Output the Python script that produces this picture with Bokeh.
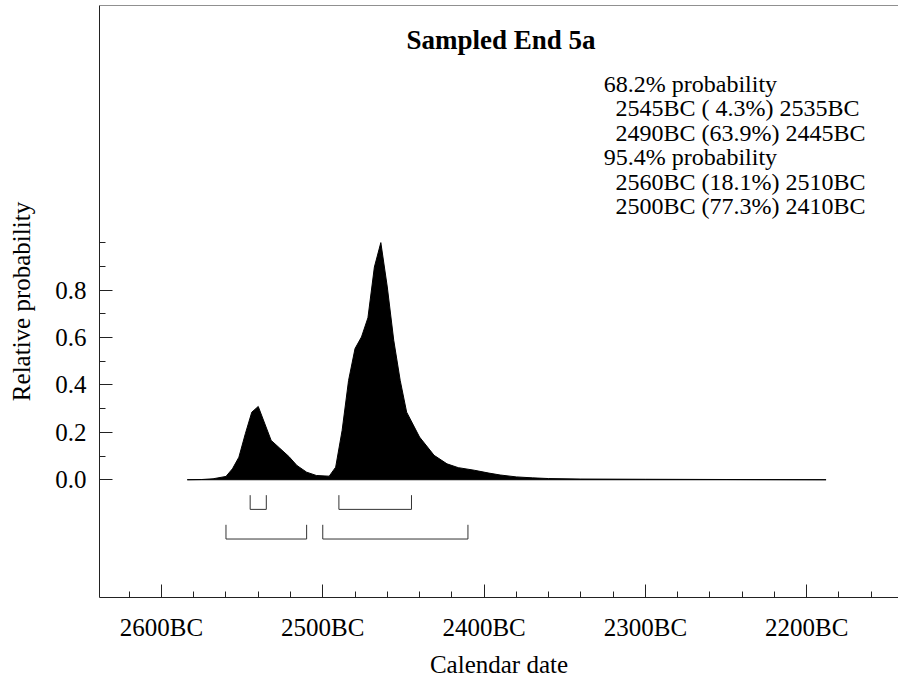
from bokeh.plotting import figure
from bokeh.models import Range1d, FixedTicker, Label, PrintfTickFormatter, Span
from bokeh.embed import file_html
from bokeh.resources import INLINE

# ---- data (years BC, relative probability) ----
years_bc = [2584, 2575, 2568, 2560, 2556, 2552, 2548, 2544, 2540, 2532, 2527, 2521,
            2516, 2510, 2504, 2496, 2492, 2488, 2484, 2480, 2476, 2472, 2468, 2464,
            2460, 2456, 2452, 2448, 2440, 2431, 2423, 2416, 2406, 2397, 2390, 2380,
            2370, 2360, 2340, 2300, 2250, 2188]
prob = [0.0, 0.001, 0.004, 0.014, 0.046, 0.095, 0.194, 0.285, 0.309, 0.166, 0.135, 0.098,
        0.060, 0.032, 0.018, 0.015, 0.053, 0.208, 0.419, 0.553, 0.602, 0.683, 0.897, 1.0,
        0.813, 0.588, 0.419, 0.285, 0.180, 0.103, 0.067, 0.051, 0.040, 0.028, 0.020, 0.012,
        0.008, 0.005, 0.003, 0.002, 0.001, 0.0]

ranges_68_start = [2545, 2490]
ranges_68_end = [2535, 2445]
ranges_95_start = [2560, 2500]
ranges_95_end = [2510, 2410]

x_major_bc = [2600, 2500, 2400, 2300, 2200]
y_major = [0.0, 0.2, 0.4, 0.6, 0.8]
y_minor = [0.1, 0.3, 0.5, 0.7, 0.9, 1.0]

title_text = "Sampled End 5a"
stats_lines = ["68.2% probability",
               "2545BC ( 4.3%) 2535BC",
               "2490BC (63.9%) 2445BC",
               "95.4% probability",
               "2560BC (18.1%) 2510BC",
               "2500BC (77.3%) 2410BC"]
stats_indent = [False, True, True, False, True, True]

FONT = "Liberation Serif"
AX = "#222222"
Y_TOP = 2.0

p = figure(width=898, height=686, output_backend="svg", toolbar_location=None,
           x_range=Range1d(-2638.4, -2143.1), y_range=Range1d(-0.4966, Y_TOP),
           min_border_left=99, min_border_right=0, min_border_top=5, min_border_bottom=89)
p.grid.visible = False
p.outline_line_color = None
p.background_fill_color = "white"
p.border_fill_color = "white"

# density
xs = [-y for y in years_bc]
p.patch(xs, prob, fill_color="black", line_color="black", line_width=1)

# range brackets
def brackets(starts, ends, level, h):
    mx, my = [], []
    for s, e in zip(starts, ends):
        mx.append([-s, -s, -e, -e])
        my.append([level + h, level, level, level + h])
    return mx, my

bx1, by1 = brackets(ranges_68_start, ranges_68_end, -0.125, 0.06)
bx2, by2 = brackets(ranges_95_start, ranges_95_end, -0.25, 0.06)
p.multi_line(bx1 + bx2, by1 + by2, line_color="#333333", line_width=1)

# x axis
xa = p.xaxis[0]
xa.ticker = FixedTicker(ticks=[-v for v in x_major_bc],
                        minor_ticks=list(range(-2620, -2140, 20)))
xa.major_label_overrides = {-v: f"{v}BC" for v in x_major_bc}
xa.major_tick_in = 13
xa.major_tick_out = 0
xa.minor_tick_in = 6
xa.minor_tick_out = 0
xa.major_label_standoff = 16
xa.axis_label = "Calendar date"
xa.axis_label_standoff = 7
xa.axis_label_text_font = FONT
xa.axis_label_text_font_style = "normal"
xa.axis_label_text_font_size = "25px"
xa.axis_label_text_color = "black"
xa.major_label_text_font = FONT
xa.major_label_text_font_size = "25px"
xa.major_label_text_color = "black"
xa.axis_line_color = AX
xa.major_tick_line_color = AX
xa.minor_tick_line_color = AX

# y axis
ya = p.yaxis[0]
ya.ticker = FixedTicker(ticks=y_major, minor_ticks=y_minor)
ya.formatter = PrintfTickFormatter(format="%.1f")
ya.major_tick_in = 13
ya.major_tick_out = 0
ya.minor_tick_in = 6
ya.minor_tick_out = 0
ya.major_label_standoff = 13
ya.axis_label = "Relative probability"
ya.axis_label_standoff = 17
ya.axis_label_text_font = FONT
ya.axis_label_text_font_style = "normal"
ya.axis_label_text_font_size = "25px"
ya.axis_label_text_color = "black"
ya.major_label_text_font = FONT
ya.major_label_text_font_size = "25px"
ya.major_label_text_color = "black"
ya.axis_line_color = AX
ya.major_tick_line_color = AX
ya.minor_tick_line_color = AX

# top frame line
p.add_layout(Span(location=Y_TOP, dimension="width", line_color=AX, line_width=1))

# title
p.add_layout(Label(x=-2389.5, y=1.854, text=title_text, text_font=FONT,
                   text_font_style="bold", text_font_size="27px", text_color="black",
                   text_align="center", text_baseline="alphabetic"))

# stats text
for k, (line, ind) in enumerate(zip(stats_lines, stats_indent)):
    p.add_layout(Label(x=-2318.5 if ind else -2325.8, y=1.670 - k * 0.1034, text=line,
                       text_font=FONT, text_font_size="24px", text_color="black",
                       text_align="left", text_baseline="alphabetic"))

open("out.html", "w").write(file_html(p, INLINE))
